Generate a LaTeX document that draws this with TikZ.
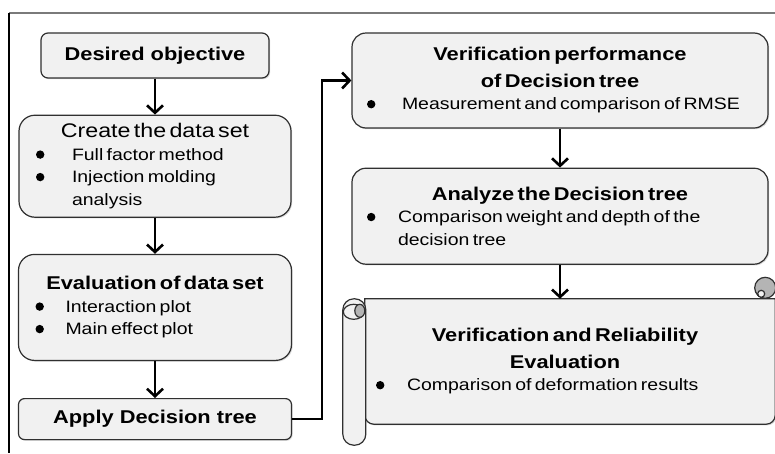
\documentclass[tikz,border=0pt]{standalone}
\usepackage{fontspec}
\setmainfont{Liberation Sans}[FakeStretch=1.18]
\usepackage{xcolor}
\usetikzlibrary{positioning, arrows.meta, calc, shadows}
\definecolor{boxfill}{HTML}{F1F1F1}
\definecolor{boxline}{HTML}{303030}
\definecolor{framegray}{HTML}{7A7A7A}
\definecolor{curlgray}{HTML}{B4B4B4}
\hyphenpenalty=10000
\newcommand{\ttl}{\fontsize{18.5}{26.5}\selectfont\bfseries}
\newcommand{\ttlr}{\fontsize{19.7}{26.5}\selectfont}
\newcommand{\dotmark}{\tikz[baseline=-5.8pt]\fill (0,0) circle (4.2pt);}
\newcommand{\bul}[2][31pt]{\par\fontsize{16.5}{22.5}\selectfont
  \hangindent=#1\hangafter=1\noindent\makebox[#1][l]{\dotmark}#2}
\tikzset{
  blk/.style={rectangle, draw=boxline, fill=boxfill, line width=1.2pt, align=center,
              inner sep=2pt, drop shadow={shadow xshift=1.2pt, shadow yshift=-1.2pt, opacity=.3}},
  lst/.style={blk, align=left},
  scl/.style={draw=boxline, fill=boxfill, line width=1.2pt},
  arr/.style={-{Straight Barb[length=7.5pt, width=16pt]}, line width=2.6pt},
}
\begin{document}
\begin{tikzpicture}[x=1pt, y=-1pt]
  \useasboundingbox (0,0) rectangle (775,453);
  % frame edges
  \draw[framegray, line width=1.3pt] (9,13) -- (775,13);
  \draw[line width=1.4pt] (9,13) -- (9,453);
  % left column: data preparation
  \node[blk, rounded corners=7pt, minimum width=228pt, minimum height=45pt] (goal) at (155,55.5) {\ttl Desired objective};
  \node[lst, rounded corners=16pt, minimum width=272pt, minimum height=102pt, inner xsep=17pt, text width=238pt,
        below=36pt of goal] (dataset)
    {{\centering\ttlr Create the data set\par}\bul[36pt]{Full factor method}\bul[36pt]{Injection molding analysis}\par};
  \node[lst, rounded corners=16pt, minimum width=273pt, minimum height=106pt, inner xsep=17pt, text width=239pt,
        below=36pt of dataset] (evals)
    {{\centering\ttl Evaluation of data set\par}\bul[30pt]{Interaction plot}\bul[30pt]{Main effect plot}\par};
  \node[blk, rounded corners=6pt, minimum width=273pt, minimum height=41pt, below=37pt of evals] (apply) {\ttl Apply Decision tree};
  % right column: checking the tree
  \node[lst, rounded corners=14pt, minimum width=416pt, minimum height=95pt, inner xsep=15pt, text width=386pt] (verif) at (560,80.5)
    {{\centering\ttl Verification performance\\of Decision tree\par}\bul[35pt]{Measurement and comparison of RMSE}\par};
  \node[lst, rounded corners=14pt, minimum width=416pt, minimum height=96pt, inner xsep=15pt, text width=386pt,
        below=39pt of verif] (analyze)
    {{\centering\ttl Analyze the Decision tree\par}\bul[31pt]{Comparison weight and depth of the decision tree}\par};
  % scroll holding the last step
  \node[minimum width=400pt, minimum height=125pt, inner xsep=11pt, text width=378pt, align=left, inner ysep=2pt,
        below=34pt of analyze, xshift=5pt] (relia) {};
  \draw[scl, drop shadow={shadow xshift=1.2pt, shadow yshift=-1.2pt, opacity=.3}]
    (relia.north west) -- ($(relia.north east)+(10,0)$) {[rounded corners=9pt] -- ($(relia.south east)+(10,0)$) -- (relia.south west)} -- cycle;
  \draw[scl, rounded corners=11pt] ($(relia.north west)+(-22,0)$) rectangle ($(relia.south west)+(1,21)$);
  \draw[scl] ($(relia.north west)+(-11,13)$) ellipse (10.5pt and 7.5pt);
  \draw[scl, fill=curlgray] ($(relia.north west)+(-5,12)$) ellipse (5pt and 6.5pt);
  \draw[scl, fill=curlgray] ($(relia.north east)+(0,-11)$) circle (10.5pt);
  \draw[scl] ($(relia.north east)+(-4,-5)$) circle (3.5pt);
  \node[text width=378pt, align=left, inner sep=0pt] (reliatxt) at (relia)
    {{\centering\ttl Verification and Reliability\\Evaluation\par}\bul[31pt]{Comparison of deformation results}\par};
  % connectors
  \draw[arr] (goal) -- (dataset);
  \draw[arr] (dataset) -- (evals);
  \draw[arr] (evals) -- (apply);
  \draw[arr] (apply.east) -- ++(30,0) |- (verif.west);
  \draw[arr] (verif) -- (analyze);
  \draw[arr] (analyze.south) -- (analyze.south |- relia.north);
\end{tikzpicture}
\end{document}
